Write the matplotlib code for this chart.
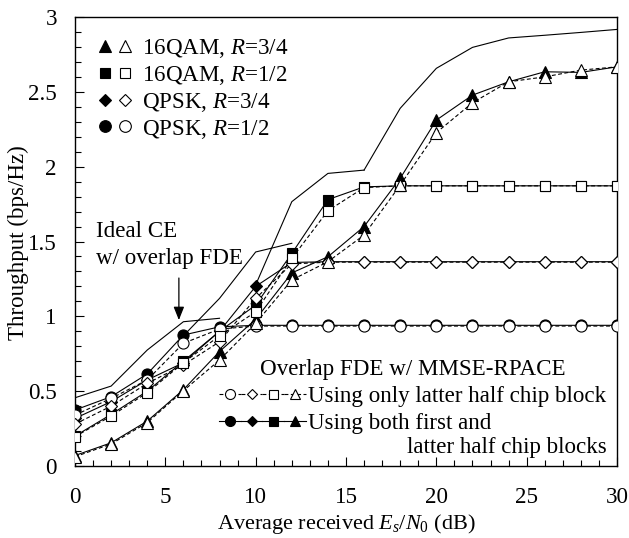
import numpy as np
import matplotlib
matplotlib.use('Agg')
import matplotlib.pyplot as plt
from matplotlib.lines import Line2D
from matplotlib.legend_handler import HandlerTuple
from matplotlib.ticker import MultipleLocator, FuncFormatter

plt.rcParams['font.family'] = ['Liberation Serif', 'DejaVu Serif']
plt.rcParams['mathtext.fontset'] = 'custom'
plt.rcParams['mathtext.rm'] = 'Liberation Serif'
plt.rcParams['mathtext.it'] = 'Liberation Serif:italic'
plt.rcParams['legend.numpoints'] = 1

# ---------------- data ----------------
snr = [0, 2, 4, 6, 8, 10, 12, 14, 16, 18, 20, 22, 24, 26, 28, 30]

# Overlap FDE w/ MMSE-RPACE, using both first and latter half chip blocks (filled)
qpsk12_both  = [0.374, 0.463, 0.615, 0.875, 0.930, 0.940, 0.940, 0.940, 0.940, 0.940, 0.940, 0.940, 0.940, 0.940, 0.940, 0.940]
qpsk34_both  = [0.318, 0.430, 0.575, 0.690, 0.900, 1.200, 1.360, 1.365, 1.365, 1.365, 1.365, 1.365, 1.365, 1.365, 1.365, 1.365]
qam16_12_both = [0.200, 0.345, 0.500, 0.700, 0.900, 1.075, 1.420, 1.780, 1.865, 1.872, 1.872, 1.872, 1.872, 1.872, 1.872, 1.872]
qam16_34_both = [0.070, 0.155, 0.300, 0.510, 0.765, 0.980, 1.290, 1.398, 1.600, 1.922, 2.311, 2.478, 2.567, 2.634, 2.630, 2.667]

# Using only latter half chip block (open)
qpsk12_latter  = [0.340, 0.452, 0.575, 0.820, 0.915, 0.935, 0.935, 0.935, 0.935, 0.935, 0.935, 0.935, 0.935, 0.935, 0.935, 0.935]
qpsk34_latter  = [0.280, 0.400, 0.552, 0.675, 0.830, 1.120, 1.350, 1.362, 1.362, 1.362, 1.362, 1.362, 1.362, 1.362, 1.362, 1.362]
qam16_12_latter = [0.196, 0.334, 0.490, 0.690, 0.870, 1.030, 1.387, 1.706, 1.860, 1.872, 1.872, 1.872, 1.872, 1.872, 1.872, 1.872]
qam16_34_latter = [0.062, 0.147, 0.290, 0.503, 0.708, 0.953, 1.243, 1.365, 1.543, 1.877, 2.227, 2.427, 2.567, 2.600, 2.645, 2.667]

# Ideal CE w/ overlap FDE (thin solid lines)
ideal_qpsk12_snr = [0, 2, 4, 6, 8]
ideal_qpsk12 = [0.456, 0.534, 0.775, 0.964, 0.987]
ideal_qpsk34_snr = [6, 8, 10, 12]
ideal_qpsk34 = [0.870, 1.120, 1.430, 1.488]
ideal_qam16_12_snr = [10, 12, 14, 16]
ideal_qam16_12 = [1.210, 1.766, 1.955, 1.977]
ideal_qam16_34_snr = [16, 18, 20, 22, 24, 26, 28, 30]
ideal_qam16_34 = [1.977, 2.390, 2.657, 2.797, 2.860, 2.878, 2.897, 2.917]

mod_labels = ['16QAM, $R$=3/4', '16QAM, $R$=1/2', 'QPSK, $R$=3/4', 'QPSK, $R$=1/2']
scheme_labels = ['Using only latter half chip block', 'Using both first and']

# ---------------- figure ----------------
fig = plt.figure(figsize=(6.29, 5.38), dpi=100)
ax = fig.add_axes([75/629, 1-466/538, 542/629, 449/538])

FS = 16.6
lw = 0.8
dash = (0, (3.5, 2.2))
ms = {'o': 8.0, 'D': 6.0, 's': 7.2, '^': 8.3}

for xs, ys in [(ideal_qpsk12_snr, ideal_qpsk12), (ideal_qpsk34_snr, ideal_qpsk34),
               (ideal_qam16_12_snr, ideal_qam16_12), (ideal_qam16_34_snr, ideal_qam16_34)]:
    ax.plot(xs, ys, color='black', lw=lw, zorder=2)

both = [(qpsk12_both, 'o'), (qpsk34_both, 'D'), (qam16_12_both, 's'), (qam16_34_both, '^')]
latter = [(qpsk12_latter, 'o'), (qpsk34_latter, 'D'), (qam16_12_latter, 's'), (qam16_34_latter, '^')]

both_lines = []
for ys, m in both:
    l, = ax.plot(snr, ys, color='black', lw=lw, marker=m, ms=ms[m],
                 mfc='black', mec='black', mew=0.8, zorder=3)
    both_lines.append(l)
latter_lines = []
for ys, m in latter:
    l, = ax.plot(snr, ys, color='black', lw=lw, ls=dash, marker=m, ms=ms[m],
                 mfc='white', mec='black', mew=0.8, zorder=4)
    latter_lines.append(l)

ax.set_xlim(0, 30)
ax.set_ylim(0, 3)
ax.xaxis.set_major_locator(MultipleLocator(5))
ax.xaxis.set_minor_locator(MultipleLocator(1))
ax.yaxis.set_major_locator(MultipleLocator(0.5))
ax.yaxis.set_minor_locator(MultipleLocator(0.1))
ax.yaxis.set_major_formatter(FuncFormatter(lambda v, p: ('%g' % v)))
ax.tick_params(which='both', direction='in', top=False, right=False, width=0.8)
ax.tick_params(which='major', length=6.5)
ax.tick_params(which='minor', length=4)
ax.tick_params(axis='x', which='both', labelsize=FS, pad=15)
ax.tick_params(axis='y', which='both', labelsize=FS, pad=13)
for s in ax.spines.values():
    s.set_linewidth(1.0)

ax.set_xlabel('Average received $E_s$/$N_0$ (dB)', fontsize=16)
ax.set_ylabel('Throughput (bps/Hz)', fontsize=FS)
ax.xaxis.set_label_coords(0.5, -0.103)
ax.yaxis.set_label_coords(-0.084, 0.497)

# ---------- legend: modulation / rate ----------
def proxy(m, filled):
    return Line2D([], [], ls='None', marker=m, ms=ms[m], mfc='black' if filled else 'white',
                  mec='black', mew=0.8)

h1 = [(proxy('^', True), proxy('^', False)),
      (proxy('s', True), proxy('s', False)),
      (proxy('D', True), proxy('D', False)),
      (proxy('o', True), proxy('o', False))]
leg1 = ax.legend(h1, mod_labels, handler_map={tuple: HandlerTuple(ndivide=None, pad=0)},
                 loc='upper left', bbox_to_anchor=(0.037, 0.956), frameon=False,
                 fontsize=FS, handlelength=1.75, handletextpad=0.3, labelspacing=0.17,
                 borderpad=0, borderaxespad=0, markerscale=1.05)
ax.add_artist(leg1)

# ---------- legend: channel estimation scheme ----------
h2 = [tuple(latter_lines), tuple(both_lines)]
leg2 = ax.legend(h2, scheme_labels,
                 handler_map={tuple: HandlerTuple(ndivide=None, pad=0)},
                 title='Overlap FDE w/ MMSE-RPACE', title_fontsize=FS,
                 loc='upper left', bbox_to_anchor=(0.266, 0.239), frameon=False,
                 fontsize=FS, handlelength=3.75, handletextpad=0.1, labelspacing=0.26,
                 borderpad=0, borderaxespad=0, markerscale=0.9)
ax.text(0.9815, (466-448)/449, 'latter half chip blocks', transform=ax.transAxes,
        ha='right', va='center', fontsize=FS)

# ---------- Ideal CE annotation ----------
ax.text(1.15, 1.476, 'Ideal CE\nw/ overlap FDE', ha='left', va='center', fontsize=FS,
        linespacing=1.4)
ax.annotate('', xy=(5.75, 0.975), xytext=(5.75, 1.256),
            arrowprops=dict(arrowstyle='-|>,head_length=0.5,head_width=0.2',
                            color='black', lw=0.9, shrinkA=0, shrinkB=0, mutation_scale=16))

fig.savefig('out.png', dpi=100)
